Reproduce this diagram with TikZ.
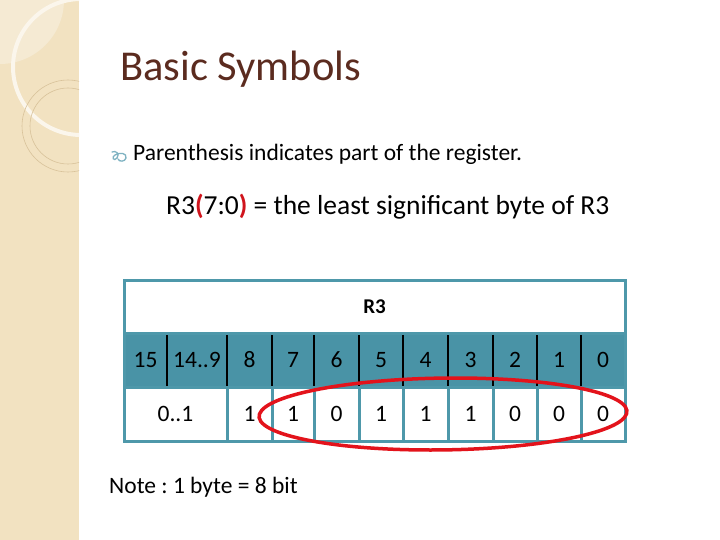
\documentclass[tikz,border=0pt]{standalone}
\usepackage{fontspec}
\usetikzlibrary{shapes.geometric}
\setmainfont{Carlito}
\frenchspacing
\definecolor{side}{HTML}{F2E2C1}
\definecolor{sidelight}{HTML}{F5EAD3}
\definecolor{ringc}{HTML}{D8C29A}
\definecolor{titlec}{HTML}{5B2B1F}
\definecolor{tealh}{HTML}{4993A6}
\definecolor{tealb}{HTML}{4E98AA}
\definecolor{bul}{HTML}{7FB3C2}
\definecolor{redp}{HTML}{D0141C}
\definecolor{redo}{HTML}{E3131B}
\begin{document}
\begin{tikzpicture}[x=1pt,y=-1pt,
  hcell/.style={draw=black,line width=1.2pt,fill=tealh,inner sep=0pt,font=\fontsize{23.5}{28}\selectfont},
  vcell/.style={draw=tealb,line width=3pt,fill=white,inner sep=0pt,font=\fontsize{23.5}{28}\selectfont},
  txt/.style={inner sep=0pt,anchor=base west}]
\useasboundingbox (0,0) rectangle (720,540);
\fill[white] (0,0) rectangle (720,540);
% sidebar
\begin{scope}
\clip (0,0) rectangle (79,540);
\fill[side] (0,0) rectangle (79,540);
\fill[sidelight] (0,0) circle[radius=64];
\draw[white!70!side,line width=4pt] (81,67) circle[radius=68];
\draw[ringc,line width=0.6pt] (68,126) circle[radius=46];
\draw[ringc,line width=0.6pt] (68,126) circle[radius=38];
\end{scope}
% title
\node[txt,text=titlec,font=\fontsize{42.5}{50}\selectfont] (title) at (120,81) {Basic Symbols};
% bullet
\draw[bul,line width=1.3pt,line cap=round] (112,152) .. controls (116,150) and (120,154) .. (117,158)
  .. controls (114,162) and (111,157) .. (115,155) .. controls (120,152) and (127,153) .. (126,158)
  .. controls (125,162) and (119,162) .. (118,159);
\node[txt,font=\fontsize{23.5}{28}\selectfont] (b1) at (133,161) {Parenthesis indicates part of the register.};
\node[txt,font=\fontsize{27.5}{32}\selectfont] (b2) at (166,214.5) {R3{\color{redp}\textbf{(}}7:0{\color{redp}\textbf{)}} = the least significant byte of R3};
% header row
\node[hcell,minimum width=43pt,minimum height=54pt] (h15) at (145.5,360) {15};
\node[hcell,minimum width=60pt,minimum height=54pt] (h14) at (197,360) {14..9};
\node[hcell,minimum width=45pt,minimum height=54pt] (h8) at (249.5,360) {8};
\node[hcell,minimum width=42pt,minimum height=54pt] (h7) at (293,360) {7};
\node[hcell,minimum width=45pt,minimum height=54pt] (h6) at (336.5,360) {6};
\node[hcell,minimum width=44pt,minimum height=54pt] (h5) at (381,360) {5};
\node[hcell,minimum width=45pt,minimum height=54pt] (h4) at (425.5,360) {4};
\node[hcell,minimum width=45pt,minimum height=54pt] (h3) at (470.5,360) {3};
\node[hcell,minimum width=44pt,minimum height=54pt] (h2) at (515,360) {2};
\node[hcell,minimum width=44pt,minimum height=54pt] (h1) at (559,360) {1};
\node[hcell,minimum width=44pt,minimum height=54pt] (h0) at (603,360) {0};
% value row
\node[vcell,minimum width=103pt,minimum height=54pt] (v15) at (175.5,414) {0..1};
\node[vcell,minimum width=45pt,minimum height=54pt] (v8) at (249.5,414) {1};
\node[vcell,minimum width=42pt,minimum height=54pt] (v7) at (293,414) {1};
\node[vcell,minimum width=45pt,minimum height=54pt] (v6) at (336.5,414) {0};
\node[vcell,minimum width=44pt,minimum height=54pt] (v5) at (381,414) {1};
\node[vcell,minimum width=45pt,minimum height=54pt] (v4) at (425.5,414) {1};
\node[vcell,minimum width=45pt,minimum height=54pt] (v3) at (470.5,414) {1};
\node[vcell,minimum width=44pt,minimum height=54pt] (v2) at (515,414) {0};
\node[vcell,minimum width=44pt,minimum height=54pt] (v1) at (559,414) {0};
\node[vcell,minimum width=44pt,minimum height=54pt] (v0) at (603,414) {0};
% R3 row
\node[vcell,minimum width=501pt,minimum height=53pt,font=\bfseries\fontsize{21}{25}\selectfont] (r3) at (374.5,306.5) {R3};
\draw[tealb,line width=3pt] (124,280) rectangle (625,441);
% ellipse
\coordinate (oc) at (443,414);
\draw[redo,line width=3.5pt,shift={(oc)},xslant=0.35] (0,0) circle[x radius=183.5,y radius=36];
% note
\node[txt,font=\fontsize{23.5}{28}\selectfont] (note) at (109,493) {Note : 1 byte = 8 bit};
\end{tikzpicture}
\end{document}
